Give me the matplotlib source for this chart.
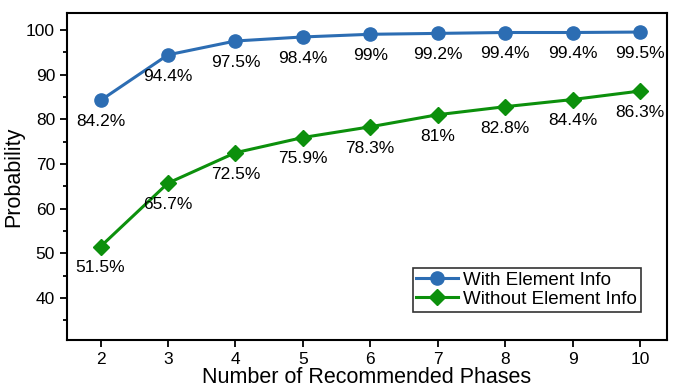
import matplotlib.pyplot as plt
from matplotlib.ticker import MultipleLocator

plt.rcParams['font.family'] = ['Liberation Sans', 'DejaVu Sans']

# Số pha được đề xuất và xác suất tương ứng
phases = [2, 3, 4, 5, 6, 7, 8, 9, 10]
with_info = [84.2, 94.4, 97.5, 98.4, 99.0, 99.2, 99.4, 99.4, 99.5]
without_info = [51.5, 65.7, 72.5, 75.9, 78.3, 81.0, 82.8, 84.4, 86.3]
with_labels = ['84.2%', '94.4%', '97.5%', '98.4%', '99%', '99.2%', '99.4%', '99.4%', '99.5%']
without_labels = ['51.5%', '65.7%', '72.5%', '75.9%', '78.3%', '81%', '82.8%', '84.4%', '86.3%']

fig = plt.figure(figsize=(6.75, 3.89), dpi=100)
ax = fig.add_axes([0.099, 0.126, 0.889, 0.841])

ax.plot(phases, with_info, '-o', color='#2c6db3', lw=2.2, ms=9.5, label='With Element Info')
ax.plot(phases, without_info, '-D', color='#0c900c', lw=2.2, ms=8, label='Without Element Info')

# Nhãn phần trăm dưới mỗi điểm
for x, y, t in zip(phases, with_info, with_labels):
    ax.annotate(t, (x, y), xytext=(0, -10), textcoords='offset points',
                ha='center', va='top', fontsize=12.5)
for x, y, t in zip(phases, without_info, without_labels):
    ax.annotate(t, (x, y), xytext=(0, -10), textcoords='offset points',
                ha='center', va='top', fontsize=12.5)

ax.set_xlim(1.5, 10.4)
ax.set_ylim(30.6, 103.8)
ax.set_xticks(phases)
ax.yaxis.set_major_locator(MultipleLocator(10))
ax.yaxis.set_minor_locator(MultipleLocator(5))
ax.tick_params(which='both', direction='out', top=False, right=False, labelsize=12.5, width=1.3)
ax.tick_params(which='major', length=5)
ax.tick_params(which='minor', length=3)
for s in ax.spines.values():
    s.set_linewidth(1.5)

ax.set_xlabel('Number of Recommended Phases', fontsize=15.5, labelpad=0)
ax.set_ylabel('Probability', fontsize=15.5, labelpad=1)

leg = ax.legend(loc='lower right', bbox_to_anchor=(0.963, 0.075), fontsize=13.5, frameon=True,
                fancybox=False, edgecolor='black', handlelength=2.2, borderpad=0.2,
                labelspacing=0.1, handletextpad=0.3, borderaxespad=0.2)
leg.get_frame().set_linewidth(1.2)

fig.savefig('out.png', dpi=100)
